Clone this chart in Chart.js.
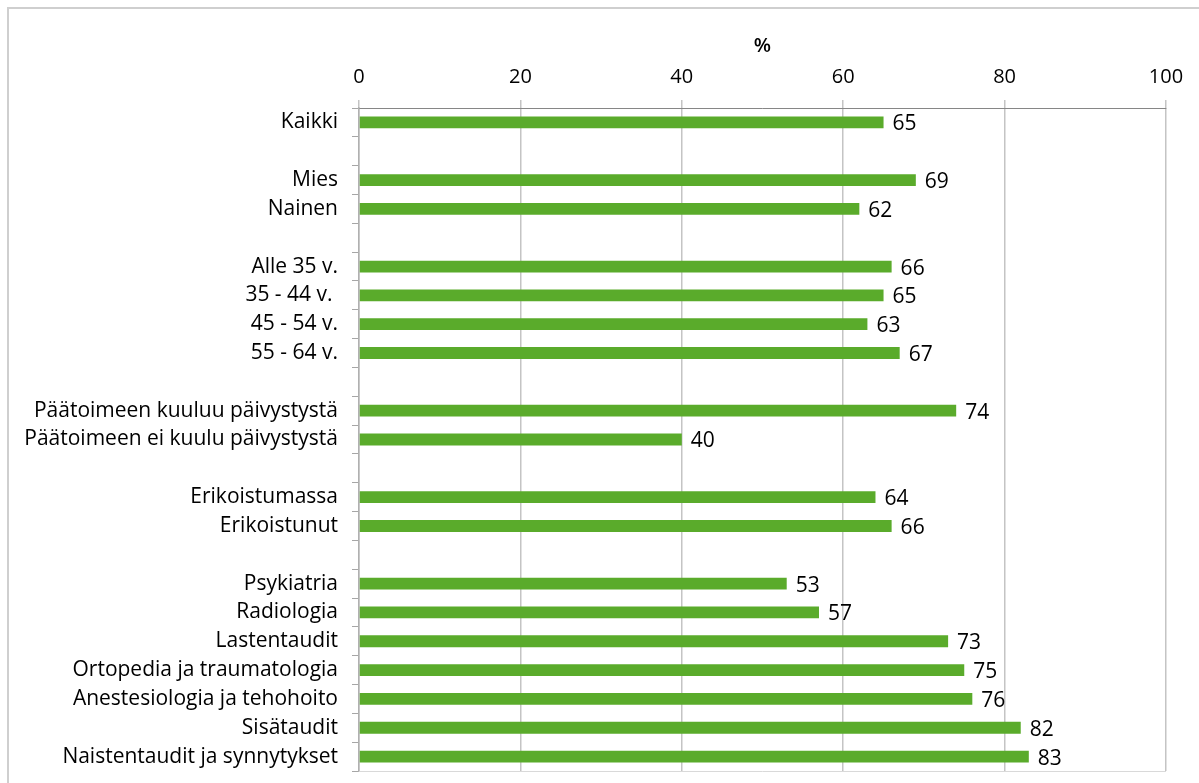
<!DOCTYPE html>
<html>
<head>
<meta charset="utf-8">
<script src="https://cdn.jsdelivr.net/npm/chart.js@4"></script>
<style>
  html, body { margin: 0; padding: 0; background: #fff; }
  canvas { display: block; }
</style>
</head>
<body>
<canvas id="chart" width="1199" height="783"></canvas>
<script>
// Categories (empty strings are the gaps between groups)
const categories = [
  "Kaikki", "",
  "Mies", "Nainen", "",
  "Alle 35 v.", "35 - 44 v. ", "45 - 54 v.", "55 - 64 v.", "",
  "Päätoimeen kuuluu päivystystä", "Päätoimeen ei kuulu päivystystä", "",
  "Erikoistumassa", "Erikoistunut", "",
  "Psykiatria", "Radiologia", "Lastentaudit", "Ortopedia ja traumatologia",
  "Anestesiologia ja tehohoito", "Sisätaudit", "Naistentaudit ja synnytykset"
];
const values = [
  65, null,
  69, 62, null,
  66, 65, 63, 67, null,
  74, 40, null,
  64, 66, null,
  53, 57, 73, 75, 76, 82, 83
];
const axisMin = 0;
const axisMax = 100;
const axisStep = 20;
const axisTitle = "%";

const FONT = "'Open Sans', Lato, sans-serif";

// Draw value labels at the end of each bar
const valueLabels = {
  id: "valueLabels",
  afterDatasetsDraw(chart) {
    const ctx = chart.ctx;
    const meta = chart.getDatasetMeta(0);
    ctx.save();
    ctx.font = "21px " + FONT;
    ctx.fillStyle = "#000";
    ctx.textAlign = "left";
    ctx.textBaseline = "middle";
    meta.data.forEach((bar, i) => {
      const v = values[i];
      if (v === null) return;
      ctx.fillText(String(v), bar.x + 9, bar.y + 2);
    });
    ctx.restore();
  }
};

// Outer frame and bottom edge of the plot
const frame = {
  id: "frame",
  beforeDraw(chart) {
    const ctx = chart.ctx;
    ctx.save();
    ctx.fillStyle = "#fff";
    ctx.fillRect(0, 0, chart.width, chart.height);
    ctx.strokeStyle = "#cfcfcf";
    ctx.lineWidth = 2;
    ctx.strokeRect(8, 8, chart.width + 20, chart.height + 20);
    ctx.restore();
  },
  afterDraw(chart) {
    const a = chart.chartArea;
    const ctx = chart.ctx;
    ctx.save();
    ctx.strokeStyle = "#d9d9d9";
    ctx.lineWidth = 1;
    ctx.beginPath();
    ctx.moveTo(a.left, a.bottom + 0.5);
    ctx.lineTo(a.right, a.bottom + 0.5);
    ctx.stroke();
    ctx.restore();
  }
};

new Chart(document.getElementById("chart"), {
  type: "bar",
  data: {
    labels: categories,
    datasets: [{
      data: values,
      backgroundColor: "#5aab2b",
      borderWidth: 0,
      categoryPercentage: 1,
      barPercentage: 0.41
    }]
  },
  plugins: [frame, valueLabels],
  options: {
    indexAxis: "y",
    responsive: false,
    animation: false,
    layout: { padding: { left: 0, top: 0, right: 33, bottom: 12 } },
    plugins: {
      legend: { display: false },
      tooltip: { enabled: false }
    },
    scales: {
      x: {
        position: "top",
        min: axisMin,
        max: axisMax,
        ticks: {
          stepSize: axisStep,
          color: "#000",
          padding: 11,
          font: { family: FONT, size: 20 }
        },
        grid: {
          color: "#c4c4c4",
          lineWidth: 1.5,
          tickLength: 8
        },
        border: { display: true, color: "#868686", width: 1 },
        title: {
          display: true,
          text: axisTitle,
          color: "#000",
          font: { family: FONT, size: 20, weight: "600" },
          padding: { top: 34, bottom: 0 }
        },
        afterFit(scale) {
          scale.height = 108;
          scale.paddingLeft = 0;
          scale.paddingRight = 0;
        }
      },
      y: {
        ticks: {
          color: "#000",
          padding: 14,
          autoSkip: false,
          font: { family: FONT, size: 21 }
        },
        grid: {
          drawOnChartArea: false,
          color: "#a6a6a6",
          tickLength: 7,
          offset: true
        },
        border: { display: true, color: "#b0b0b0", width: 1.5 },
        afterFit(scale) {
          scale.width = 359;
          scale.paddingTop = 0;
          scale.paddingBottom = 0;
        }
      }
    }
  }
});
</script>
</body>
</html>
